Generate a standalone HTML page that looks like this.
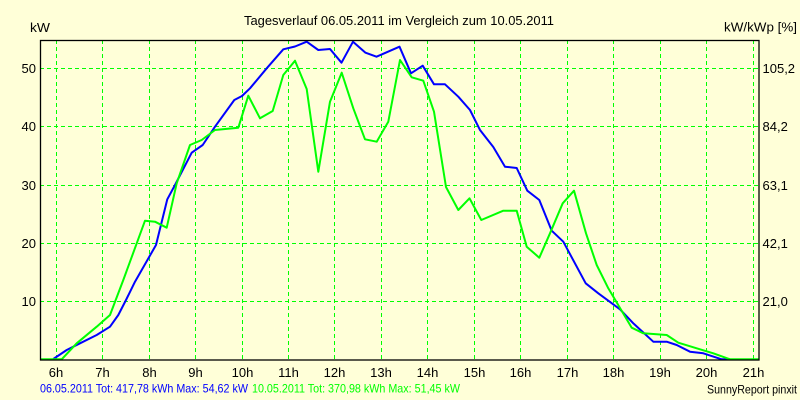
<!DOCTYPE html>
<html>
<head>
<meta charset="utf-8">
<style>
html,body{margin:0;padding:0;background:#FFFFD8;}
svg{display:block;}
text{font-family:"Liberation Sans",Arial,sans-serif;fill:#000;}
</style>
</head>
<body>
<svg width="800" height="400" viewBox="0 0 800 400" xmlns="http://www.w3.org/2000/svg">
<rect x="0" y="0" width="800" height="400" fill="#FFFFD8"/>

<!-- grid -->
<g stroke="#00FF00" stroke-width="1" stroke-dasharray="4,3" fill="none">
  <line x1="40" y1="301.5" x2="759" y2="301.5"/>
  <line x1="40" y1="243.5" x2="759" y2="243.5"/>
  <line x1="40" y1="185.5" x2="759" y2="185.5"/>
  <line x1="40" y1="126.5" x2="759" y2="126.5"/>
  <line x1="40" y1="68.5" x2="759" y2="68.5"/>
  <line x1="56.5" y1="40" x2="56.5" y2="360"/>
  <line x1="102.5" y1="40" x2="102.5" y2="360"/>
  <line x1="149.5" y1="40" x2="149.5" y2="360"/>
  <line x1="195.5" y1="40" x2="195.5" y2="360"/>
  <line x1="242.5" y1="40" x2="242.5" y2="360"/>
  <line x1="288.5" y1="40" x2="288.5" y2="360"/>
  <line x1="334.5" y1="40" x2="334.5" y2="360"/>
  <line x1="381.5" y1="40" x2="381.5" y2="360"/>
  <line x1="427.5" y1="40" x2="427.5" y2="360"/>
  <line x1="474.5" y1="40" x2="474.5" y2="360"/>
  <line x1="520.5" y1="40" x2="520.5" y2="360"/>
  <line x1="567.5" y1="40" x2="567.5" y2="360"/>
  <line x1="613.5" y1="40" x2="613.5" y2="360"/>
  <line x1="660.5" y1="40" x2="660.5" y2="360"/>
  <line x1="706.5" y1="40" x2="706.5" y2="360"/>
  <line x1="753.5" y1="40" x2="753.5" y2="360"/>
</g>

<!-- blue series -->
<polyline fill="none" stroke="#0000FF" stroke-width="2" stroke-linejoin="round" points="
53.3,359 66.7,350 80,343.3 96.7,335 110,326.7 118.3,315 126,300 135,281.7 156,245 167.3,199.3 175,185 191.7,152.7 202.7,145 215,126.7 234.3,100 242,96 250,88.3 266.7,68.3 283.3,49.3 295,46.5 306.7,41.7 318.3,50 330,49 341.5,62.7 353,41.7 365.5,52.7 376.5,56.7 399.5,46.7 411,73.3 422.7,65.7 434,84.3 445,84.3 458.3,96.7 470,110 480,130 493.3,147 505,166.7 516.7,168 527.3,190.7 539.3,200 551.7,230.7 563.3,241.7 585.7,283.3 598.3,293.3 620,309.3 633.3,323.3 653.3,341.7 666.7,341.7 676.7,345 690,351.7 703.3,353.3 721.7,359.3 730,359.3"/>

<!-- green series -->
<polyline fill="none" stroke="#00FF00" stroke-width="2" stroke-linejoin="round" points="
40,359.3 61.7,359.3 76.7,343.3 96.7,326.7 110,315 123.3,280 145,220.7 155,221.7 166.7,227.7 176.7,183.3 190,145 201.7,140 215,130 238.3,127.7 248.3,95.7 260,118.3 272.7,111 283.3,75 295,60.7 306.7,89 318.3,171.7 330,101.7 341.7,72.7 353.3,108.3 365,139.3 376.7,141.7 388.3,121.7 400,60 411.7,77.3 423.3,80.7 434,111.7 446,187 458.3,210 469.5,198.3 481.3,220 503.3,210.7 516.7,210.7 526.7,246.7 539.3,257.7 550,233.3 562.7,203.3 574,190.7 586,233.3 596.7,265 608.3,288.3 631.7,327.7 643.3,333.3 656.7,334.3 666.7,335 678.3,342.7 700,349.3 713.3,353.3 730,359.3 759,359.3"/>

<!-- axes frame -->
<rect x="40.5" y="40.5" width="718.5" height="319.5" fill="none" stroke="#000" stroke-width="1.3"/>

<!-- title -->
<text x="244" y="25" font-size="12.5" textLength="310" lengthAdjust="spacingAndGlyphs">Tagesverlauf 06.05.2011 im Vergleich zum 10.05.2011</text>
<text x="30" y="32" font-size="12.5" textLength="20" lengthAdjust="spacingAndGlyphs">kW</text>
<text x="724" y="31.5" font-size="12.5" textLength="73" lengthAdjust="spacingAndGlyphs">kW/kWp [%]</text>

<!-- left y labels -->
<g font-size="13" text-anchor="end">
  <text x="36" y="73">50</text>
  <text x="36" y="131">40</text>
  <text x="36" y="190">30</text>
  <text x="36" y="248">20</text>
  <text x="36" y="306">10</text>
</g>
<!-- right y labels -->
<g font-size="13">
  <text x="762.5" y="73">105,2</text>
  <text x="762.5" y="131">84,2</text>
  <text x="762.5" y="190">63,1</text>
  <text x="762.5" y="248">42,1</text>
  <text x="762.5" y="306">21,0</text>
</g>

<!-- x labels -->
<g font-size="13" text-anchor="middle">
  <text x="56" y="377">6h</text>
  <text x="102.5" y="377">7h</text>
  <text x="149.5" y="377">8h</text>
  <text x="195.5" y="377">9h</text>
  <text x="242.5" y="377">10h</text>
  <text x="288.5" y="377">11h</text>
  <text x="334.5" y="377">12h</text>
  <text x="381" y="377">13h</text>
  <text x="427.5" y="377">14h</text>
  <text x="474.5" y="377">15h</text>
  <text x="520.5" y="377">16h</text>
  <text x="567.5" y="377">17h</text>
  <text x="613.5" y="377">18h</text>
  <text x="660" y="377">19h</text>
  <text x="706.5" y="377">20h</text>
  <text x="753.5" y="377">21h</text>
</g>

<!-- footer -->
<text x="40" y="392.5" font-size="12" style="fill:#0000FF" textLength="208" lengthAdjust="spacingAndGlyphs">06.05.2011 Tot: 417,78 kWh Max: 54,62 kW</text>
<text x="252" y="392.5" font-size="12" style="fill:#00FF00" textLength="208" lengthAdjust="spacingAndGlyphs">10.05.2011 Tot: 370,98 kWh Max: 51,45 kW</text>
<text x="707" y="393.5" font-size="12" textLength="90" lengthAdjust="spacingAndGlyphs">SunnyReport pinxit</text>
</svg>
</body>
</html>
